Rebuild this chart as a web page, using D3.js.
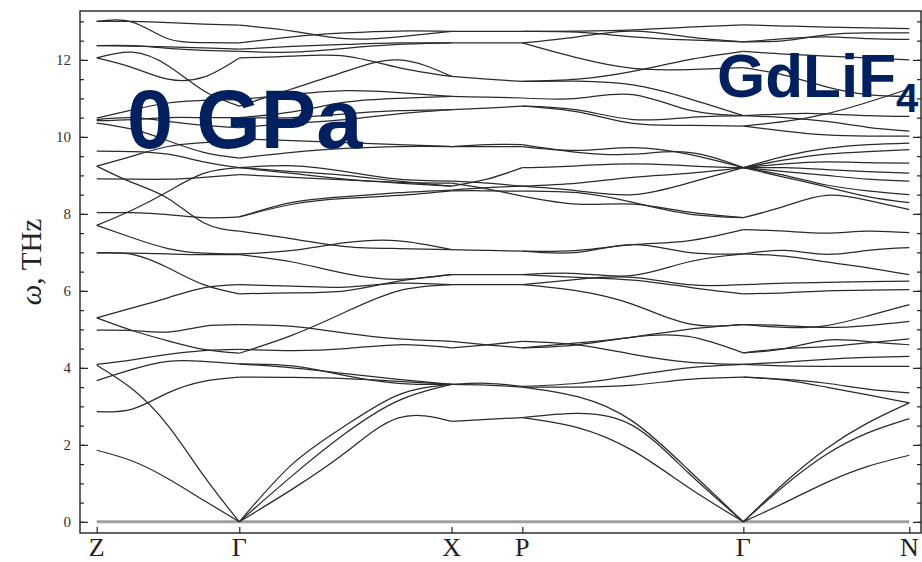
<!DOCTYPE html>
<html><head><meta charset="utf-8">
<script src="https://cdn.jsdelivr.net/npm/d3@7/dist/d3.min.js"></script>
<style>body{margin:0;background:#fff}svg{display:block}</style>
</head><body>
<svg id="chart" width="922" height="562"></svg>
<script>
// ---- data ----
const kLabels = ["Z", "Γ", "X", "P", "Γ", "N"];
const kPos = [0, 1.0, 2.489, 2.985, 4.535, 5.699];
const yTicks = [0, 2, 4, 6, 8, 10, 12];

// Z -> Γ (5 samples)
const segZG = [
  [1.86, 1.58, 1.12, 0.56, 0],
  [4.07, 3.45, 2.5, 1.2, 0],
  [2.86, 2.93, 3.35, 3.65, 3.76],
  [3.67, 3.96, 4.17, 4.17, 4.1],
  [4.09, 4.21, 4.35, 4.45, 4.48],
  [5.3, 4.97, 4.7, 4.48, 4.38],
  [4.98, 4.97, 4.93, 5.08, 5.12],
  [5.3, 5.56, 5.82, 6.08, 6.16],
  [6.99, 6.95, 6.6, 6.16, 5.92],
  [6.99, 6.98, 6.96, 6.94, 6.94],
  [7.7, 7.38, 7.1, 6.98, 6.96],
  [7.7, 8.1, 8.58, 9.05, 9.2],
  [8.03, 8.03, 7.98, 7.9, 7.92],
  [9.24, 8.81, 8.4, 7.77, 7.55],
  [8.91, 8.9, 8.9, 8.95, 9.02],
  [9.24, 9.5, 9.75, 9.85, 9.95],
  [9.63, 9.62, 9.55, 9.35, 9.2],
  [10.49, 10.7, 10.88, 10.95, 10.97],
  [10.42, 10.45, 10.5, 10.5, 10.5],
  [10.36, 10.2, 9.9, 9.6, 9.45],
  [10.45, 10.5, 10.4, 10.3, 10.24],
  [12.05, 12.2, 11.85, 11.2, 10.8],
  [12.05, 11.8, 11.5, 11.55, 12.05],
  [12.37, 12.36, 12.34, 12.31, 12.28],
  [12.37, 12.37, 12.3, 12.25, 12.22],
  [13.0, 12.98, 12.55, 12.45, 12.44],
  [13.0, 13.0, 12.97, 12.93, 12.9]
];

// Γ -> X (5 samples)
const segGX = [
  [0, 0.85, 1.8, 2.7, 2.61],
  [0, 1.2, 2.3, 3.15, 3.57],
  [0, 1.5, 2.5, 3.3, 3.57],
  [7.92, 8.25, 8.4, 8.48, 8.6],
  [7.92, 8.3, 8.45, 8.55, 8.62],
  [7.55, 7.35, 7.15, 7.1, 7.07],
  [6.96, 7.05, 7.25, 7.3, 7.07],
  [6.94, 6.75, 6.45, 6.3, 6.42],
  [6.16, 6.12, 6.1, 6.2, 6.16],
  [5.92, 5.95, 6.0, 6.25, 6.42],
  [5.12, 5.08, 4.9, 4.75, 4.69],
  [4.38, 4.85, 5.45, 6.0, 6.16],
  [4.48, 4.45, 4.5, 4.6, 4.52],
  [4.1, 4.0, 3.85, 3.7, 3.57],
  [4.1, 4.05, 3.8, 3.6, 3.57],
  [3.76, 3.75, 3.72, 3.65, 3.57],
  [12.9, 12.75, 12.55, 12.6, 12.74],
  [12.44, 12.6, 12.7, 12.75, 12.74],
  [12.28, 12.35, 12.4, 12.44, 12.44],
  [12.22, 12.2, 12.3, 12.4, 12.44],
  [12.05, 12.1, 12.1, 11.8, 11.57],
  [10.8, 11.25, 11.7, 12.0, 11.57],
  [10.97, 11.1, 11.2, 11.15, 11.05],
  [10.5, 10.65, 10.9, 11.0, 11.05],
  [10.5, 10.5, 10.6, 10.68, 10.71],
  [10.24, 10.35, 10.45, 10.6, 10.71],
  [9.95, 9.9, 9.85, 9.8, 9.75],
  [9.45, 9.6, 9.7, 9.75, 9.75],
  [9.2, 9.1, 9.0, 8.85, 8.72],
  [9.2, 9.05, 8.9, 8.8, 8.72],
  [9.02, 8.95, 8.88, 8.82, 8.8],
  [9.2, 9.25, 9.1, 8.9, 8.85]
];

// X -> P (3 samples)
const segXP = [
  [2.61, 2.66, 2.71],
  [3.57, 3.55, 3.5],
  [3.57, 3.6, 3.52],
  [4.69, 4.6, 4.52],
  [4.52, 4.6, 4.69],
  [6.16, 6.16, 6.16],
  [6.42, 6.42, 6.42],
  [7.07, 7.05, 7.03],
  [8.6, 8.6, 8.59],
  [8.62, 8.68, 8.72],
  [8.8, 8.65, 8.46],
  [8.72, 8.9, 9.2],
  [8.85, 8.8, 8.72],
  [9.75, 9.75, 9.75],
  [9.75, 9.8, 9.8],
  [10.71, 10.75, 10.8],
  [11.05, 11.03, 11.01],
  [11.57, 11.5, 11.44],
  [12.44, 12.44, 12.44],
  [12.74, 12.74, 12.74]
];

// P -> Γ (5 samples)
const segPG = [
  [2.71, 2.45, 1.85, 0.9, 0],
  [2.71, 2.82, 2.5, 1.28, 0],
  [3.5, 3.25, 2.61, 1.36, 0],
  [3.5, 3.5, 3.55, 3.7, 3.76],
  [3.52, 3.6, 3.8, 4.0, 4.09],
  [4.69, 4.6, 4.35, 4.15, 4.09],
  [4.52, 4.6, 4.8, 4.82, 4.39],
  [4.52, 4.65, 4.8, 5.0, 5.12],
  [8.59, 8.55, 8.3, 8.0, 7.9],
  [8.46, 8.25, 8.25, 8.05, 7.9],
  [7.03, 7.05, 7.2, 7.3, 7.59],
  [7.03, 7.0, 7.2, 7.0, 6.96],
  [6.42, 6.45, 6.4, 6.75, 6.96],
  [6.16, 6.3, 6.35, 6.16, 6.16],
  [6.16, 6.0, 5.65, 5.15, 5.12],
  [6.42, 6.35, 6.28, 6.1, 5.92],
  [12.74, 12.75, 12.78, 12.85, 12.91],
  [12.74, 12.72, 12.6, 12.52, 12.47],
  [12.44, 12.6, 12.75, 12.6, 12.47],
  [12.44, 12.05, 11.78, 11.75, 11.8],
  [11.44, 11.5, 11.7, 12.0, 12.22],
  [11.44, 11.45, 11.35, 11.0, 10.55],
  [11.01, 11.0, 11.1, 10.7, 10.55],
  [10.8, 10.7, 10.45, 10.5, 10.55],
  [10.8, 10.65, 10.35, 10.3, 10.28],
  [9.75, 9.65, 9.72, 9.55, 9.2],
  [9.8, 9.6, 9.55, 9.6, 9.2],
  [9.2, 9.25, 9.3, 9.25, 9.2],
  [8.72, 8.8, 8.95, 9.05, 9.2],
  [8.72, 8.6, 8.5, 8.8, 9.2]
];

// Γ -> N (5 samples)
const segGN = [
  [0, 0.5, 1.02, 1.44, 1.73],
  [0, 0.95, 1.75, 2.31, 2.68],
  [0, 1.02, 1.9, 2.57, 3.09],
  [3.76, 3.68, 3.5, 3.3, 3.09],
  [3.76, 3.7, 3.6, 3.45, 3.35],
  [4.09, 4.05, 4.04, 4.04, 4.04],
  [4.09, 4.15, 4.22, 4.27, 4.3],
  [4.39, 4.5, 4.72, 4.68, 4.6],
  [4.39, 4.5, 4.55, 4.65, 4.75],
  [5.12, 5.1, 5.05, 5.1, 5.21],
  [5.12, 5.05, 5.1, 5.35, 5.64],
  [5.92, 5.95, 6.0, 6.02, 6.03],
  [6.16, 6.2, 6.22, 6.24, 6.25],
  [6.96, 7.05, 6.95, 7.05, 7.12],
  [7.59, 7.55, 7.5, 7.55, 7.51],
  [6.96, 6.9, 6.75, 6.6, 6.42],
  [7.9, 8.2, 8.48, 8.35, 8.11],
  [9.2, 8.95, 8.7, 8.45, 8.29],
  [9.2, 9.0, 8.75, 8.6, 8.5],
  [9.2, 9.1, 9.0, 8.9, 8.85],
  [9.2, 9.2, 9.15, 9.1, 9.06],
  [9.2, 9.3, 9.35, 9.33, 9.32],
  [9.2, 9.4, 9.55, 9.62, 9.67],
  [9.2, 9.5, 9.7, 9.8, 9.84],
  [10.28, 10.15, 10.05, 10.02, 10.02],
  [10.55, 10.5, 10.4, 10.25, 10.15],
  [10.55, 10.6, 10.6, 10.55, 10.53],
  [11.8, 11.6, 11.3, 11.1, 11.05],
  [12.22, 12.15, 12.1, 12.05, 12.0],
  [10.28, 10.4, 10.6, 10.9, 11.25],
  [12.47, 12.55, 12.6, 12.55, 12.53],
  [12.91, 12.88, 12.85, 12.83, 12.81],
  [12.47, 12.5, 12.65, 12.7, 12.7]
];

const segments = [
  {from: 0, to: 1, lines: segZG},
  {from: 1, to: 2, lines: segGX},
  {from: 2, to: 3, lines: segXP},
  {from: 3, to: 4, lines: segPG},
  {from: 4, to: 5, lines: segGN}
];

// ---- drawing ----
const svg = d3.select("#chart");
const frame = {left: 80, right: 921, top: 11, bottom: 533};

const x = d3.scaleLinear().domain([0, kPos[kPos.length - 1]]).range([96.7, 909.3]);
const y = d3.scaleLinear().domain([-0.29, 13.27]).range([frame.bottom, frame.top]);

// zero line
svg.append("line")
  .attr("x1", x(kPos[0])).attr("x2", x(kPos[kPos.length - 1]))
  .attr("y1", y(0)).attr("y2", y(0))
  .attr("stroke", "#a0a0a0").attr("stroke-width", 3);

const line = d3.line().x(d => x(d[0])).y(d => y(d[1])).curve(d3.curveNatural);
const gBands = svg.append("g");
segments.forEach(seg => {
  const k0 = kPos[seg.from], k1 = kPos[seg.to];
  seg.lines.forEach(vals => {
    const n = vals.length;
    const pts = vals.map((v, i) => [k0 + (k1 - k0) * i / (n - 1), v]);
    gBands.append("path").attr("d", line(pts))
      .attr("fill", "none").attr("stroke", "#2b2b2b").attr("stroke-width", 1.25);
  });
});

// frame
svg.append("rect")
  .attr("x", frame.left).attr("y", frame.top)
  .attr("width", frame.right - frame.left).attr("height", frame.bottom - frame.top)
  .attr("fill", "none").attr("stroke", "#222").attr("stroke-width", 1.4);

// left / right axes with inward ticks
const minor = d3.range(0, 13.01, 0.5);
function ticks(sel, axis) { sel.call(axis); sel.select(".domain").remove(); }
ticks(svg.append("g").attr("transform", `translate(${frame.left},0)`),
  d3.axisRight(y).tickValues(minor).tickSize(4).tickFormat(""));
ticks(svg.append("g").attr("transform", `translate(${frame.left},0)`),
  d3.axisRight(y).tickValues(yTicks).tickSize(8).tickFormat(""));
ticks(svg.append("g").attr("transform", `translate(${frame.right},0)`),
  d3.axisLeft(y).tickValues(minor).tickSize(4).tickFormat(""));
ticks(svg.append("g").attr("transform", `translate(${frame.right},0)`),
  d3.axisLeft(y).tickValues(yTicks).tickSize(8).tickFormat(""));
ticks(svg.append("g").attr("transform", `translate(0,${frame.bottom})`),
  d3.axisTop(x).tickValues(kPos).tickSize(6).tickFormat(""));
svg.selectAll(".tick line").attr("stroke", "#222").attr("stroke-width", 1.2);

// y tick labels
svg.append("g").selectAll("text").data(yTicks).join("text")
  .attr("x", 71).attr("y", d => y(d)).attr("dy", "0.35em")
  .attr("text-anchor", "end")
  .attr("font-family", "'Liberation Serif','Times New Roman',serif")
  .attr("font-size", 15).attr("fill", "#333")
  .text(d => d);

// bottom labels
svg.append("g").selectAll("text").data(kPos).join("text")
  .attr("x", d => x(d)).attr("y", 556)
  .attr("text-anchor", "middle")
  .attr("font-family", "'Liberation Serif','Times New Roman',serif")
  .attr("font-size", 26).attr("fill", "#222")
  .text((d, i) => kLabels[i]);

// y axis title
const yt = svg.append("text")
  .attr("transform", "translate(41,262) rotate(-90)")
  .attr("text-anchor", "middle")
  .attr("font-family", "'Liberation Serif','Times New Roman',serif")
  .attr("font-size", 29).attr("fill", "#222");
yt.append("tspan").attr("font-style", "italic").text("ω");
yt.append("tspan").text(", THz");

// overlay labels
svg.append("text").attr("x", 127).attr("y", 148)
  .attr("font-family", "'Liberation Sans',Arial,sans-serif").attr("font-weight", "bold")
  .attr("font-size", 83).attr("fill", "#002060").text("0 GPa");
const gd = svg.append("text").attr("x", 717).attr("y", 97)
  .attr("font-family", "'Liberation Sans',Arial,sans-serif").attr("font-weight", "bold")
  .attr("font-size", 62).attr("fill", "#002060");
gd.append("tspan").text("GdLiF");
gd.append("tspan").attr("font-size", 40).attr("dy", 15).text("4");
</script>
</body></html>
